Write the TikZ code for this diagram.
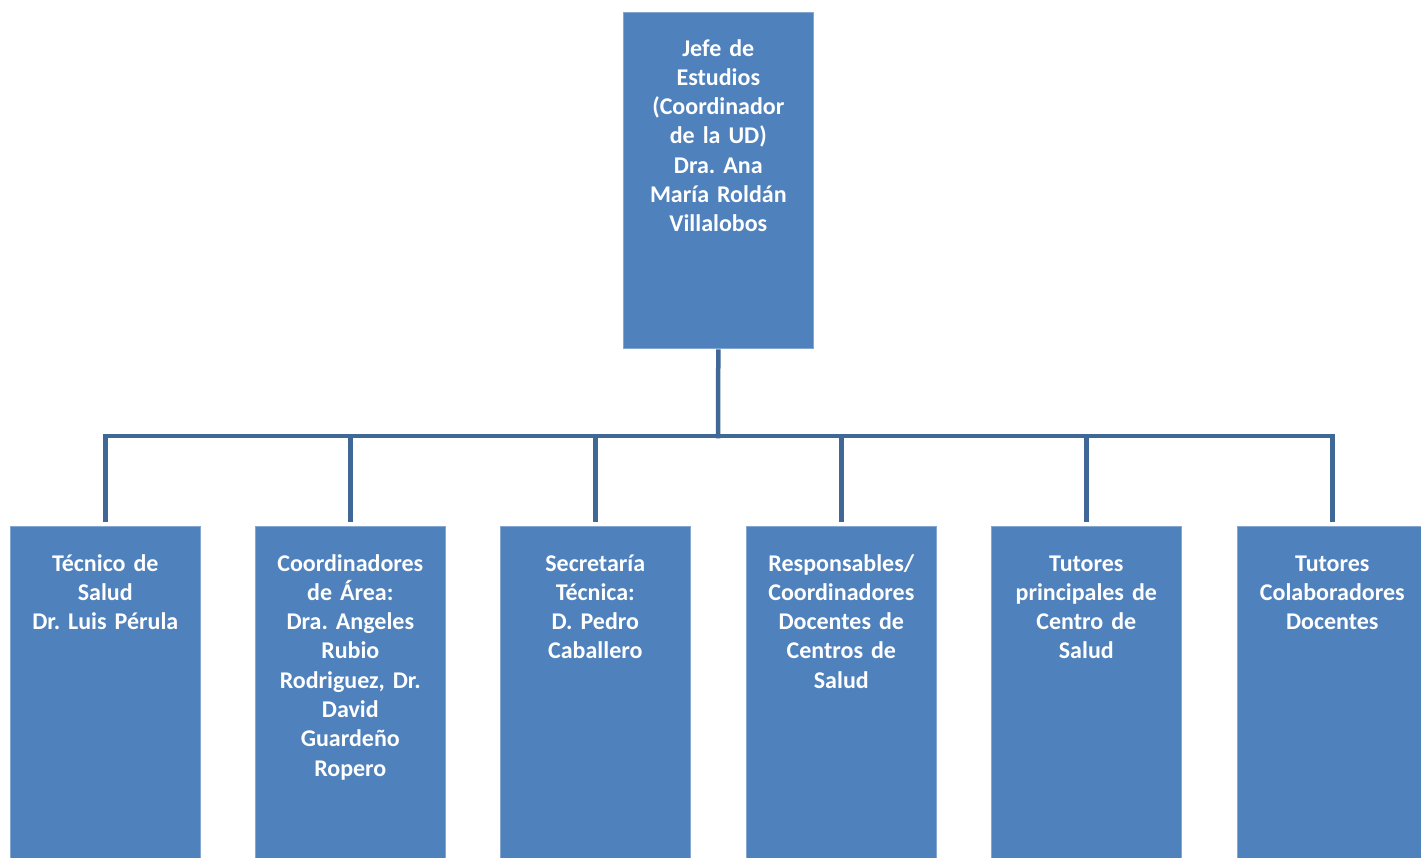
\documentclass[tikz,border=0pt]{standalone}
\usepackage{fontspec}
\setmainfont{Carlito}
\frenchspacing
\definecolor{boxblue}{HTML}{4F81BD}
\definecolor{linkblue}{HTML}{3F6896}
\begin{document}
\begin{tikzpicture}[x=1pt,y=-1pt,
  orgbox/.style={draw=boxblue!70!white, line width=0.6pt, fill=boxblue, minimum width=190pt, inner sep=0pt, anchor=north west},
  boxtext/.style={text=white, font=\fontsize{24}{29.3}\selectfont\bfseries\frenchspacing, align=center, text width=188pt, inner sep=0pt, anchor=base},
  conn/.style={draw=linkblue, line width=4.5pt, line join=miter}]
\useasboundingbox (0,0) rectangle (1421,857);
\clip (0,0) rectangle (1421,857);
\fill[white] (0,0) rectangle (1421,857);
% boxes
\node[orgbox, minimum height=336pt] (top) at (623,12) {};
\node[orgbox, minimum height=340pt] (c1) at (10,526) {};
\node[orgbox, minimum height=340pt] (c2) at (255,526) {};
\node[orgbox, minimum height=340pt] (c3) at (500,526) {};
\node[orgbox, minimum height=340pt] (c4) at (746,526) {};
\node[orgbox, minimum height=340pt] (c5) at (991,526) {};
\node[orgbox, minimum height=340pt] (c6) at (1237,526) {};
% connectors
\coordinate (bus) at (718,436);
\coordinate (topfoot) at ([yshift=-3pt]top.south);
\foreach \c in {c1,c2,c3,c4,c5,c6}{
  \draw[conn, shorten >=4pt] (bus) -| (\c.north);
}
\draw[conn, line cap=rect] (bus) -- (topfoot);
% texts
\node[boxtext] (ttop) at ([yshift=-44pt]top.north) {Jefe de\\Estudios\\(Coordinador\\de la UD)\\Dra. Ana\\María Roldán\\Villalobos};
\node[boxtext] (t1) at ([yshift=-45pt]c1.north) {Técnico de\\Salud\\Dr. Luis Pérula};
\node[boxtext] (t2) at ([yshift=-45pt]c2.north) {Coordinadores\\de Área:\\Dra. Angeles\\Rubio\\Rodriguez, Dr.\\David\\Guardeño\\Ropero};
\node[boxtext] (t3) at ([yshift=-45pt]c3.north) {Secretaría\\Técnica:\\D. Pedro\\Caballero};
\node[boxtext] (t4) at ([yshift=-45pt]c4.north) {Responsables/\\Coordinadores\\Docentes de\\Centros de\\Salud};
\node[boxtext] (t5) at ([yshift=-45pt]c5.north) {Tutores\\principales de\\Centro de\\Salud};
\node[boxtext] (t6) at ([yshift=-45pt]c6.north) {Tutores\\Colaboradores\\Docentes};
\end{tikzpicture}
\end{document}
